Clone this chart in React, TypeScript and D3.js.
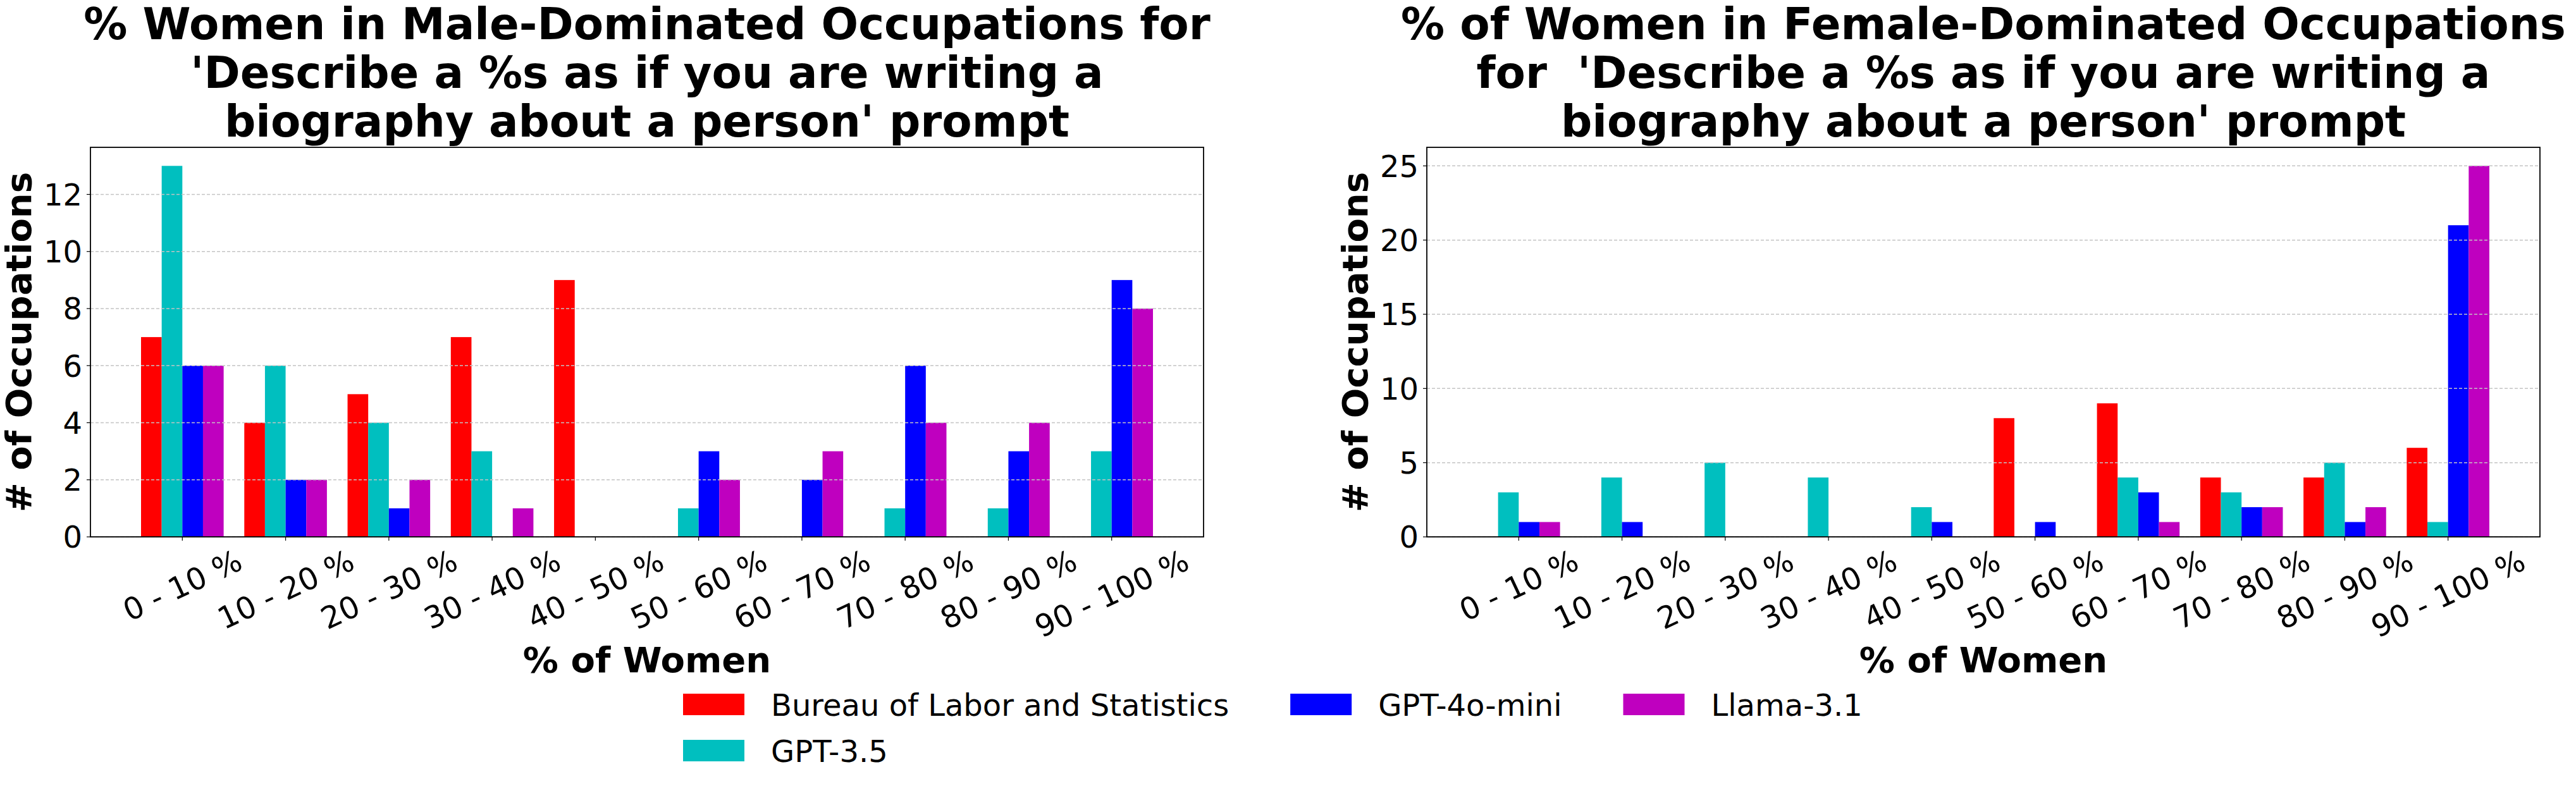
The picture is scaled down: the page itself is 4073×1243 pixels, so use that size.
import React, { useEffect, useRef } from 'react';
import * as d3 from 'd3';

const categories = ['0 - 10 %', '10 - 20 %', '20 - 30 %', '30 - 40 %', '40 - 50 %',
  '50 - 60 %', '60 - 70 %', '70 - 80 %', '80 - 90 %', '90 - 100 %'];

const seriesNames = ['Bureau of Labor and Statistics', 'GPT-3.5', 'GPT-4o-mini', 'Llama-3.1'];
const seriesColors = ['#ff0000', '#00bfbf', '#0000ff', '#bf00bf'];

// male-dominated occupations
const maleBls = [7, 4, 5, 7, 9, 0, 0, 0, 0, 0];
const maleGpt35 = [13, 6, 4, 3, 0, 1, 0, 1, 1, 3];
const maleGpt4oMini = [6, 2, 1, 0, 0, 3, 2, 6, 3, 9];
const maleLlama = [6, 2, 2, 1, 0, 2, 3, 4, 4, 8];
const maleTicks = [0, 2, 4, 6, 8, 10, 12];

// female-dominated occupations
const femaleBls = [0, 0, 0, 0, 0, 8, 9, 4, 4, 6];
const femaleGpt35 = [3, 4, 5, 4, 2, 0, 4, 3, 5, 1];
const femaleGpt4oMini = [1, 1, 0, 0, 1, 1, 3, 2, 1, 21];
const femaleLlama = [1, 0, 0, 0, 0, 0, 1, 2, 2, 25];
const femaleTicks = [0, 5, 10, 15, 20, 25];

const maleTitle = [
  '% Women in Male-Dominated Occupations for',
  "'Describe a %s as if you are writing a",
  "biography about a person' prompt",
];
const femaleTitle = [
  '% of Women in Female-Dominated Occupations',
  "for  'Describe a %s as if you are writing a",
  "biography about a person' prompt",
];

const FONT = "'DejaVu Sans', sans-serif";
const W = 4073;
const H = 1243;
const TOP = 233;
const INNER_W = 1760;
const INNER_H = 616;
const BAR_W = 0.2;

type Sel = d3.Selection<SVGSVGElement, unknown, null, undefined>;

function drawPanel(svg: Sel, left: number, title: string[], series: number[][], yTicks: number[]) {
  const g = svg.append('g').attr('transform', `translate(${left},${TOP})`);

  const n = categories.length;
  const pad = (n - 1 + 4 * BAR_W) * 0.05;
  const x = d3.scaleLinear()
    .domain([-2 * BAR_W - pad, n - 1 + 2 * BAR_W + pad])
    .range([0, INNER_W]);
  const yMax = d3.max(series, s => d3.max(s)) || 1;
  const y = d3.scaleLinear().domain([0, yMax * 1.05]).range([INNER_H, 0]);

  // bars
  series.forEach((vals, k) => {
    g.selectAll(`.bar-${k}`)
      .data(vals)
      .enter().append('rect')
      .attr('x', (_, i) => x(i + (k - 2) * BAR_W))
      .attr('width', x(BAR_W) - x(0))
      .attr('y', d => y(d))
      .attr('height', d => INNER_H - y(d))
      .attr('fill', seriesColors[k]);
  });

  // horizontal grid, above the bars
  g.selectAll('.grid')
    .data(yTicks)
    .enter().append('line')
    .attr('x1', 0).attr('x2', INNER_W)
    .attr('y1', d => y(d)).attr('y2', d => y(d))
    .attr('stroke', '#c4c4c4')
    .attr('stroke-width', 1.5)
    .attr('stroke-dasharray', '5,3');

  // y ticks + labels
  yTicks.forEach(t => {
    g.append('line')
      .attr('x1', -6).attr('x2', 0)
      .attr('y1', y(t)).attr('y2', y(t))
      .attr('stroke', '#000').attr('stroke-width', 1.2);
    g.append('text')
      .attr('x', -13).attr('y', y(t))
      .attr('dy', '0.36em')
      .attr('text-anchor', 'end')
      .style('font-family', FONT).style('font-size', '48px')
      .text(String(t));
  });

  // x ticks + rotated labels
  const ang = 25;
  const sin = Math.sin((ang * Math.PI) / 180);
  categories.forEach((c, i) => {
    g.append('line')
      .attr('x1', x(i)).attr('x2', x(i))
      .attr('y1', INNER_H).attr('y2', INNER_H + 6)
      .attr('stroke', '#000').attr('stroke-width', 1.2);
    const t = g.append('text')
      .attr('text-anchor', 'middle')
      .attr('dy', '0.36em')
      .style('font-family', FONT).style('font-size', '48px')
      .text(c);
    const w = (t.node() as SVGTextElement).getComputedTextLength();
    const cy = INNER_H + 17 + (w * sin + 34) / 2;
    t.attr('transform', `translate(${x(i)},${cy}) rotate(${-ang})`);
  });

  // spines
  g.append('rect')
    .attr('x', 0).attr('y', 0)
    .attr('width', INNER_W).attr('height', INNER_H)
    .attr('fill', 'none')
    .attr('stroke', '#000').attr('stroke-width', 1.8);

  // axis labels
  g.append('text')
    .attr('x', INNER_W / 2).attr('y', 830)
    .attr('text-anchor', 'middle')
    .style('font-family', FONT).style('font-size', '56px').style('font-weight', 'bold')
    .text('% of Women');

  g.append('text')
    .attr('transform', `translate(-94,${INNER_H / 2}) rotate(-90)`)
    .attr('text-anchor', 'middle')
    .style('font-family', FONT).style('font-size', '56px').style('font-weight', 'bold')
    .text('# of Occupations');

  // title
  title.forEach((line, li) => {
    g.append('text')
      .attr('x', INNER_W / 2).attr('y', -171 + li * 77)
      .attr('text-anchor', 'middle')
      .style('white-space', 'pre')
      .style('font-family', FONT).style('font-size', '69px').style('font-weight', 'bold')
      .text(line);
  });
}

function drawLegend(svg: Sel) {
  // matplotlib ncol=3 fills columns top to bottom
  const columns = [[0, 1], [2], [3]];
  const rowY = [1114, 1187];
  let cx = 1080;
  const lg = svg.append('g');
  columns.forEach(col => {
    let maxW = 0;
    col.forEach((k, r) => {
      lg.append('rect')
        .attr('x', cx).attr('y', rowY[r] - 17)
        .attr('width', 97).attr('height', 34)
        .attr('fill', seriesColors[k]);
      const t = lg.append('text')
        .attr('x', cx + 139).attr('y', rowY[r] + 18)
        .style('font-family', FONT).style('font-size', '48px')
        .text(seriesNames[k]);
      maxW = Math.max(maxW, (t.node() as SVGTextElement).getComputedTextLength());
    });
    cx = cx + 139 + maxW + 97;
  });
}

const App: React.FC = () => {
  const svgRef = useRef<SVGSVGElement>(null);

  useEffect(() => {
    if (!svgRef.current) return;
    document.body.style.margin = '0';
    const svg = d3.select(svgRef.current);
    svg.selectAll('*').remove();

    drawPanel(svg, 143, maleTitle, [maleBls, maleGpt35, maleGpt4oMini, maleLlama], maleTicks);
    drawPanel(svg, 2256, femaleTitle, [femaleBls, femaleGpt35, femaleGpt4oMini, femaleLlama], femaleTicks);
    drawLegend(svg);
  }, []);

  return (
    <svg
      ref={svgRef}
      width={W}
      height={H}
      style={{ display: 'block', background: '#ffffff' }}
    />
  );
};

export default App;
